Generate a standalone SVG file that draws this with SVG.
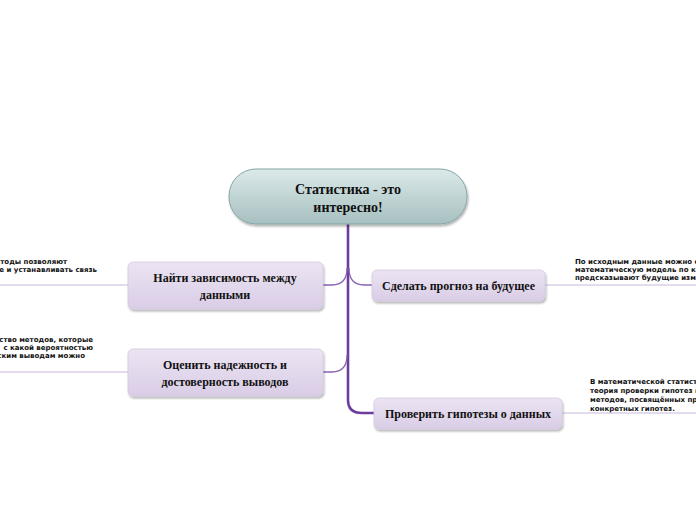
<svg xmlns="http://www.w3.org/2000/svg" width="696" height="520" viewBox="0 0 696 520">
<defs>
<linearGradient id="gMain" x1="0" y1="0" x2="0" y2="1">
<stop offset="0" stop-color="#dce9e9"/>
<stop offset="1" stop-color="#a7c0c0"/>
</linearGradient>
<linearGradient id="gSub" x1="0" y1="0" x2="0" y2="1">
<stop offset="0" stop-color="#ece4f3"/>
<stop offset="1" stop-color="#d9cde6"/>
</linearGradient>
<filter id="sh" x="-10%" y="-20%" width="120%" height="150%">
<feDropShadow dx="1" dy="2" stdDeviation="1.2" flood-color="#000" flood-opacity="0.3"/>
</filter>
</defs>
<style>
.main{fill:url(#gMain);stroke:#86a6a6;stroke-width:1}
.sub{fill:url(#gSub);stroke:#d4c8e0;stroke-width:0.8}
.t{font-family:"Liberation Serif","Times New Roman",serif;font-weight:bold;fill:#111;text-anchor:middle}
.n{font-family:"DejaVu Sans",Verdana,sans-serif;font-weight:bold;font-size:7px;fill:#111}
.trunk{fill:none;stroke:#6b3d9c;stroke-width:2.6}
.br{fill:none;stroke:#8a62b2;stroke-width:1.3}
.ln{fill:none;stroke:#c9b8da;stroke-width:1}
</style>
<rect width="696" height="520" fill="#fff"/>
<g id="connectors">
<path class="trunk" d="M348 224 V400 Q348 413 362 413 H374"/>
<path class="br" d="M347 268 Q347 285 332 285 H323"/>
<path class="br" d="M349 268 Q349 285 364 285 H372"/>
<path class="br" d="M347 355 Q347 372 332 372 H323"/>
<path class="ln" d="M0 285 H128"/>
<path class="ln" d="M0 372 H128"/>
<path class="ln" d="M545 285 H696"/>
<path class="ln" d="M562 413 H696"/>
</g>
<g id="main">
<rect class="main" x="229" y="169" width="238" height="55" rx="27" filter="url(#sh)"/>
<text class="t" x="348" y="194" font-size="14">Статистика - это</text>
<text class="t" x="348" y="212" font-size="14">интересно!</text>
</g>
<g id="n1">
<rect class="sub" x="128" y="262" width="195" height="47" rx="5" filter="url(#sh)"/>
<text class="t" x="225" y="282" font-size="12">Найти зависимость между</text>
<text class="t" x="225" y="299" font-size="12">данными</text>
</g>
<g id="n2">
<rect class="sub" x="128" y="349" width="195" height="47" rx="5" filter="url(#sh)"/>
<text class="t" x="225" y="369" font-size="12">Оценить надежность и</text>
<text class="t" x="225" y="386" font-size="12">достоверность выводов</text>
</g>
<g id="n3">
<rect class="sub" x="372" y="270" width="173" height="31" rx="5" filter="url(#sh)"/>
<text class="t" x="458.5" y="290" font-size="12">Сделать прогноз на будущее</text>
</g>
<g id="n4">
<rect class="sub" x="374" y="398" width="188" height="31" rx="5" filter="url(#sh)"/>
<text class="t" x="468" y="418" font-size="12">Проверить гипотезы о данных</text>
</g>
<g id="note1">
<text class="n" x="67" y="264" text-anchor="end">тоды позволяют</text>
<text class="n" x="97" y="272" text-anchor="end">е и устанавливать связь</text>
</g>
<g id="note2">
<text class="n" x="93" y="342" text-anchor="end">ство методов, которые</text>
<text class="n" x="93" y="350" text-anchor="end">с какой вероятностью</text>
<text class="n" x="85" y="358" text-anchor="end">ским выводам можно</text>
</g>
<g id="note3">
<text class="n" x="575" y="264">По исходным данные можно с</text>
<text class="n" x="575" y="272">математическую модель по ко</text>
<text class="n" x="575" y="280">предсказывают будущие изме</text>
</g>
<g id="note4">
<text class="n" x="590" y="384">В математической статист</text>
<text class="n" x="590" y="393">теория проверки гипотез и</text>
<text class="n" x="590" y="402">методов, посвящённых пр</text>
<text class="n" x="590" y="411">конкретных гипотез.</text>
</g>
</svg>
